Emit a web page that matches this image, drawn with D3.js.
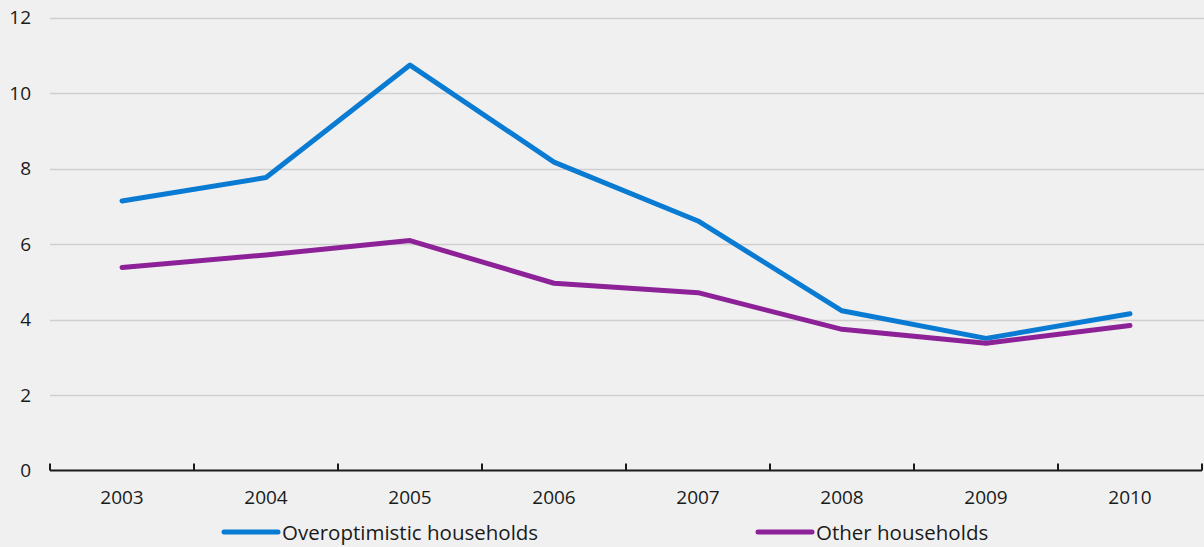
<!DOCTYPE html>
<html><head><meta charset="utf-8">
<script src="https://cdn.jsdelivr.net/npm/d3@7"></script>
<style>
html,body{margin:0;padding:0;background:#f0f0f0;}
svg{display:block;font-family:"Open Sans",Lato,sans-serif;}
</style></head>
<body><svg id="c" width="1204" height="547"></svg>
<script>
const years = ["2003","2004","2005","2006","2007","2008","2009","2010"];
const overoptimistic = [7.14, 7.76, 10.74, 8.17, 6.61, 4.23, 3.50, 4.15];
const others = [5.38, 5.71, 6.09, 4.96, 4.71, 3.74, 3.37, 3.84];
const yTicks = [0, 2, 4, 6, 8, 10, 12];
const seriesNames = ["Overoptimistic households", "Other households"];
const colors = ["#0a7bd2", "#8d2197"];

(function(){
const svg = d3.select("#c");
svg.append("rect").attr("width",1204).attr("height",547).attr("fill","#f0f0f0");
const mLeft = 50, mRight = 1202, mTop = 17.5, mBottom = 470.5;
const x = d3.scaleBand().domain(years).range([mLeft, mRight]);
const y = d3.scaleLinear().domain([0, 12]).range([mBottom, mTop]);

// gridlines
svg.append("g").selectAll("line").data(yTicks.filter(d=>d>0)).join("line")
  .attr("x1", mLeft).attr("x2", 1204)
  .attr("y1", d=>Math.round(y(d))+0.5).attr("y2", d=>Math.round(y(d))+0.5)
  .attr("stroke","#cfcfcf").attr("stroke-width",1.5);

// y labels
svg.append("g").selectAll("text").data(yTicks).join("text")
  .attr("x", 31).attr("y", d=>y(d)).attr("dy","0.36em")
  .attr("text-anchor","end").attr("font-size",19).attr("fill","#1a1a1a")
  .text(d=>d);

// x axis
const xAxis = d3.axisBottom(x).tickSize(0).tickPadding(20);
const gx = svg.append("g").attr("transform",`translate(0,${mBottom})`).call(xAxis);
gx.select(".domain").attr("stroke","#1a1a1a").attr("stroke-width",2).attr("d",`M${mLeft},0H${mRight}`);
gx.selectAll("text").attr("font-size",19).attr("fill","#1a1a1a").attr("font-family","'Open Sans',Lato,sans-serif");
const bounds = years.map(d=>x(d)).concat([mRight]);
gx.append("g").selectAll("line").data(bounds).join("line")
  .attr("x1",d=>d).attr("x2",d=>d).attr("y1",0).attr("y2",-7)
  .attr("stroke","#1a1a1a").attr("stroke-width",2);

// lines
const line = d3.line().x((d,i)=>x(years[i])+x.bandwidth()/2).y(d=>y(d));
[overoptimistic, others].forEach((s,i)=>{
  svg.append("path").attr("d", line(s)).attr("fill","none")
    .attr("stroke", colors[i]).attr("stroke-width",5)
    .attr("stroke-linecap","round").attr("stroke-linejoin","round");
});

// legend
const legX = [224, 758];
seriesNames.forEach((n,i)=>{
  svg.append("line").attr("x1",legX[i]).attr("x2",legX[i]+54).attr("y1",532).attr("y2",532)
    .attr("stroke",colors[i]).attr("stroke-width",5).attr("stroke-linecap","round");
  svg.append("text").attr("x",legX[i]+58).attr("y",539.5)
    .attr("font-size",20.5).attr("fill","#1a1a1a").text(n);
});
})();
</script></body></html>
